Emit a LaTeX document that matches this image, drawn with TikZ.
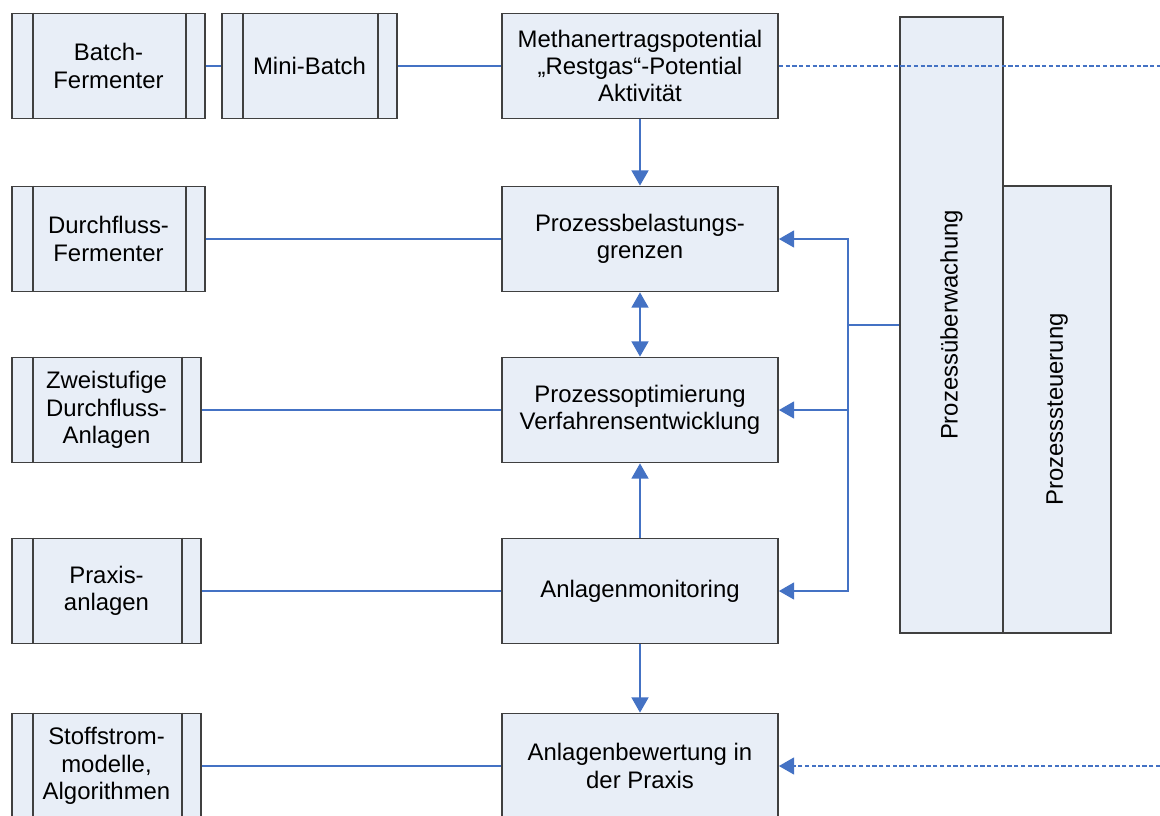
\documentclass[tikz,border=0pt]{standalone}
\usepackage{fontspec}
\setmainfont{Liberation Sans}
\usetikzlibrary{arrows.meta}

\definecolor{boxfill}{RGB}{232,238,247}
\definecolor{boxline}{RGB}{64,64,64}
\definecolor{linkblue}{RGB}{68,114,196}

\tikzset{
    box/.style={draw=boxline, line width=1.2pt, fill=boxfill, align=center, inner sep=0pt,
        minimum width=6.9cm, minimum height=2.625cm, font=\fontsize{17}{19.5}\selectfont},
    procbox/.style={box, minimum width=4.725cm},
    link/.style={draw=linkblue, line width=1.5pt},
    arrow/.style={link, -{Triangle[width=0.42cm,length=0.38cm]}},
    dotlink/.style={link, dash pattern=on 3pt off 1.8pt}
}

\begin{document}
\begin{tikzpicture}[x=0.025cm, y=-0.025cm]
    \useasboundingbox (0,0) rectangle (1160,816);
    %   Left column: sources
    \node[procbox, minimum width=4.825cm] (batch) at (108.5,66) {Batch-\\Fermenter};
    \node[procbox, minimum width=4.375cm] (mini) at (309.5,66) {Mini-Batch};
    \node[procbox, minimum width=4.825cm] (durch) at (108.5,239) {Durchfluss-\\Fermenter};
    \node[procbox] (zwei) at (106.5,410) {Zweistufige\\Durchfluss-\\Anlagen};
    \node[procbox] (praxis) at (106.5,591) {Praxis-\\anlagen};
    \node[procbox] (stoff) at (106.5,766) {Stoffstrom-\\modelle,\\Algorithmen};
    \foreach \n in {batch,mini,durch,zwei,praxis,stoff}
        \draw[draw=boxline, line width=1.2pt] ([xshift=0.55cm]\n.north west) -- ([xshift=0.55cm]\n.south west)
            ([xshift=-0.5cm]\n.north east) -- ([xshift=-0.5cm]\n.south east);

    %   Middle column
    \node[box] (methan) at (640,66) {Methanertragspotential\\\char"201E Restgas\char"201C-Potential\\Aktivität};
    \node[box] (belast) at (640,239) {Prozessbelastungs-\\grenzen};
    \node[box] (optim) at (640,410) {Prozessoptimierung\\Verfahrensentwicklung};
    \node[box] (monitor) at (640,591) {Anlagenmonitoring};
    \node[box] (bewert) at (640,766) {Anlagenbewertung in\\der Praxis};

    %   Right column
    \node[box, rotate=90, minimum width=15.4cm, minimum height=2.575cm] (ueber) at (951.5,325) {Prozessüberwachung};
    \node[box, rotate=90, minimum width=11.175cm, minimum height=2.7cm] (steuer) at (1057,409.5) {Prozesssteuerung};

    %   Connections
    \draw[link] (batch) -- (mini);
    \draw[link] (mini) -- (methan);
    \draw[link] (durch) -- (belast);
    \draw[link] (zwei) -- (optim);
    \draw[link] (praxis) -- (monitor);
    \draw[link] (stoff) -- (bewert);
    \draw[arrow] (methan) -- (belast);
    \draw[arrow, {Triangle[width=0.42cm,length=0.38cm]}-{Triangle[width=0.42cm,length=0.38cm]}] (belast) -- (optim);
    \draw[arrow] (monitor) -- (optim);
    \draw[arrow] (monitor) -- (bewert);

    %   Bus from monitoring
    \coordinate (bus) at (848,325);
    \draw[link] (bus) -- (bus -| ueber.north);
    \draw[arrow] (bus) |- (belast.east);
    \draw[arrow] (bus) |- (optim.east);
    \draw[arrow] (bus) |- (monitor.east);

    %   Dotted links to the outside
    \coordinate (outtop) at (1160,66);
    \coordinate (outbot) at (1160,766);
    \draw[dotlink] (methan.east) -- (outtop);
    \draw[dotlink, -{Triangle[width=0.42cm,length=0.38cm]}] (outbot) -- (bewert.east);
\end{tikzpicture}
\end{document}
